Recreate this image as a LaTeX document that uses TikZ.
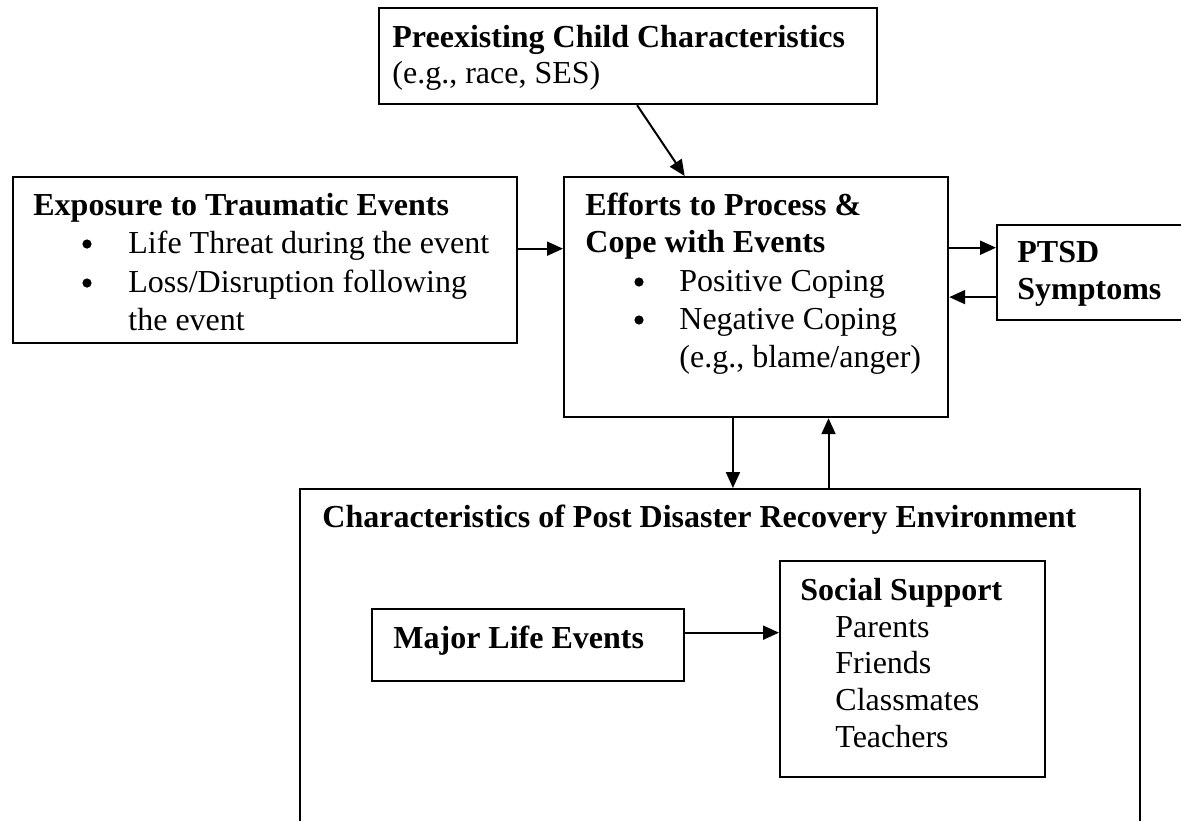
\documentclass[tikz,border=0pt]{standalone}
\usepackage{fontspec}
\setmainfont{Liberation Serif}
\usetikzlibrary{arrows.meta,calc}
\begin{document}
\begin{tikzpicture}[x=0.5pt,y=-0.5pt,
  box/.style={draw,line width=1.1pt,rectangle,inner sep=0pt,anchor=north west},
  txt/.style={anchor=base west,inner sep=0pt,font=\fontsize{16}{19}\selectfont},
  btxt/.style={txt,font=\fontsize{16}{19}\selectfont\bfseries},
  bul/.style={circle,fill,inner sep=0pt,minimum size=4.6pt},
  arr/.style={line width=1pt,-{Triangle[length=8pt,width=7pt]}}]
\useasboundingbox (0,0) rectangle (1181,820);
% boxes
\node[box,minimum width=249pt,minimum height=48pt] (pre) at (378,7) {};
\node[box,minimum width=252pt,minimum height=83pt] (exp) at (12,176) {};
\node[box,minimum width=192pt,minimum height=120pt] (eff) at (563,176) {};
\node[box,minimum width=100pt,minimum height=47.5pt] (ptsd) at (996,224) {};
\node[box,minimum width=420pt,minimum height=175pt] (env) at (299,488) {};
\node[box,minimum width=156pt,minimum height=36pt] (major) at (371,608) {};
\node[box,minimum width=132.5pt,minimum height=108pt] (soc) at (779,560) {};
% texts
\node[btxt] (preT) at (392,47) {Preexisting Child Characteristics};
\node[txt] (preS) at (392,83) {(e.g., race, SES)};
\node[btxt] (expT) at (33,215) {Exposure to Traumatic Events};
\node[bul] (expB1) at (87,244) {};
\node[txt] (expL1) at (128,253) {Life Threat during the event};
\node[bul] (expB2) at (87,283) {};
\node[txt] (expL2) at (128,292) {Loss/Disruption following};
\node[txt] (expL3) at (128,330) {the event};
\node[btxt] (effT1) at (585,215) {Efforts to Process \&};
\node[btxt] (effT2) at (585,252) {Cope with Events};
\node[bul] (effB1) at (639,282) {};
\node[txt] (effL1) at (679,291) {Positive Coping};
\node[bul] (effB2) at (639,320) {};
\node[txt] (effL2) at (679,329) {Negative Coping};
\node[txt] (effL3) at (679,367) {(e.g., blame/anger)};
\node[btxt] (ptsdT1) at (1017,262) {PTSD};
\node[btxt] (ptsdT2) at (1017,299) {Symptoms};
\node[btxt] (envT) at (322,527) {Characteristics of Post Disaster Recovery Environment};
\node[btxt] (majT) at (393,648) {Major Life Events};
\node[btxt] (socT) at (800,600) {Social Support};
\node[txt] (soc1) at (835,637) {Parents};
\node[txt] (soc2) at (835,673) {Friends};
\node[txt] (soc3) at (835,710) {Classmates};
\node[txt] (soc4) at (835,747) {Teachers};
% anchor points
\coordinate (pA) at ($(pre.south west)!0.518!(pre.south east)$);
\coordinate (eA) at ($(eff.north west)!0.315!(eff.north east)$);
\coordinate (eL) at ($(eff.north west)!0.3!(eff.south west)$);
\coordinate (eR1) at ($(eff.north east)!0.296!(eff.south east)$);
\coordinate (eR2) at ($(eff.north east)!0.5!(eff.south east)$);
\coordinate (eD) at ($(eff.south west)!0.44!(eff.south east)$);
\coordinate (eU) at ($(eff.south west)!0.6875!(eff.south east)$);
\coordinate (sL) at ($(soc.north west)!0.333!(soc.south west)$);
% connectors
\draw[arr] (pA) -- (eA);
\draw[arr] (exp.east |- eL) -- (eL);
\draw[arr] (eR1) -- (ptsd.west |- eR1);
\draw[arr] (ptsd.west |- eR2) -- (eR2);
\draw[arr] (eD) -- (env.north -| eD);
\draw[arr] (env.north -| eU) -- (eU);
\draw[arr] (major.east |- sL) -- (sL);
\end{tikzpicture}
\end{document}
